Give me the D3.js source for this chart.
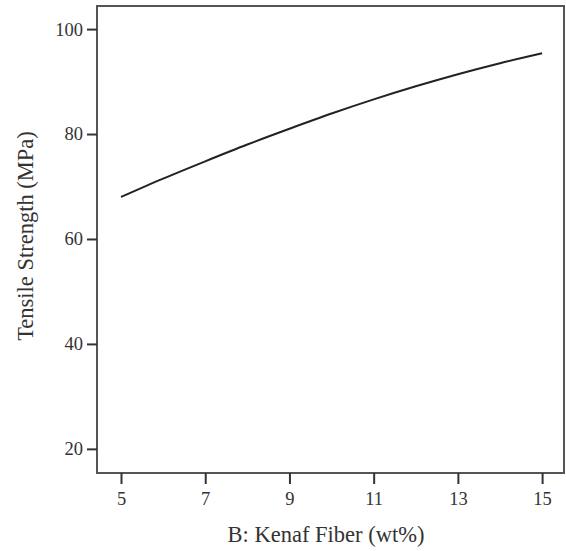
<!DOCTYPE html>
<html>
<head>
<meta charset="utf-8">
<script src="https://cdn.jsdelivr.net/npm/d3@7/dist/d3.min.js"></script>
<style>
  html, body { margin: 0; padding: 0; background: #fff; }
  svg { display: block; }
  text { font-family: "Liberation Serif", "Times New Roman", serif; fill: #333; }
</style>
</head>
<body>
<svg id="chart" width="566" height="551"></svg>
<script>
// Kenaf fibre content (wt%) and predicted tensile strength (MPa)
const fiber = [5, 6, 7, 8, 9, 10, 11, 12, 13, 14, 15];
const strength = [68.0, 71.5, 74.8, 78.0, 81.0, 83.9, 86.6, 89.1, 91.4, 93.5, 95.4];

const xTicks = [5, 7, 9, 11, 13, 15];
const yTicks = [20, 40, 60, 80, 100];

const xTitle = "B: Kenaf Fiber (wt%)";
const yTitle = "Tensile Strength (MPa)";

const svg = d3.select("#chart");
const frame = { left: 97, top: 6, right: 564, bottom: 473 };

const x = d3.scaleLinear().domain([4.43, 15.52]).range([frame.left, frame.right]);
const y = d3.scaleLinear().domain([15.4, 104.4]).range([frame.bottom, frame.top]);

// plot frame
svg.append("rect")
  .attr("x", frame.left).attr("y", frame.top)
  .attr("width", frame.right - frame.left).attr("height", frame.bottom - frame.top)
  .attr("fill", "none").attr("stroke", "#555").attr("stroke-width", 2);

// axes
const xAxis = svg.append("g")
  .attr("transform", `translate(0,${frame.bottom})`)
  .call(d3.axisBottom(x).tickValues(xTicks).tickSize(11).tickPadding(8).tickFormat(d3.format("d")));
const yAxis = svg.append("g")
  .attr("transform", `translate(${frame.left},0)`)
  .call(d3.axisLeft(y).tickValues(yTicks).tickSize(10).tickPadding(4).tickFormat(d3.format("d")));

[xAxis, yAxis].forEach(g => {
  g.select(".domain").remove();
  g.selectAll(".tick line").attr("stroke", "#333").attr("stroke-width", 2);
  g.selectAll(".tick text")
    .style("font-family", '"Liberation Serif", "Times New Roman", serif')
    .style("font-size", "18.5px").attr("fill", "#444");
});

// response curve
const line = d3.line()
  .x((d, i) => x(fiber[i]))
  .y(d => y(d))
  .curve(d3.curveMonotoneX);

svg.append("path")
  .datum(strength)
  .attr("d", line)
  .attr("fill", "none")
  .attr("stroke", "#222")
  .attr("stroke-width", 2);

// axis titles
svg.append("text")
  .attr("x", 326)
  .attr("y", 542)
  .attr("text-anchor", "middle")
  .style("font-size", "22.5px")
  .text(xTitle);

svg.append("text")
  .attr("transform", `translate(33,236) rotate(-90)`)
  .attr("text-anchor", "middle")
  .style("font-size", "22.5px")
  .text(yTitle);
</script>
</body>
</html>
